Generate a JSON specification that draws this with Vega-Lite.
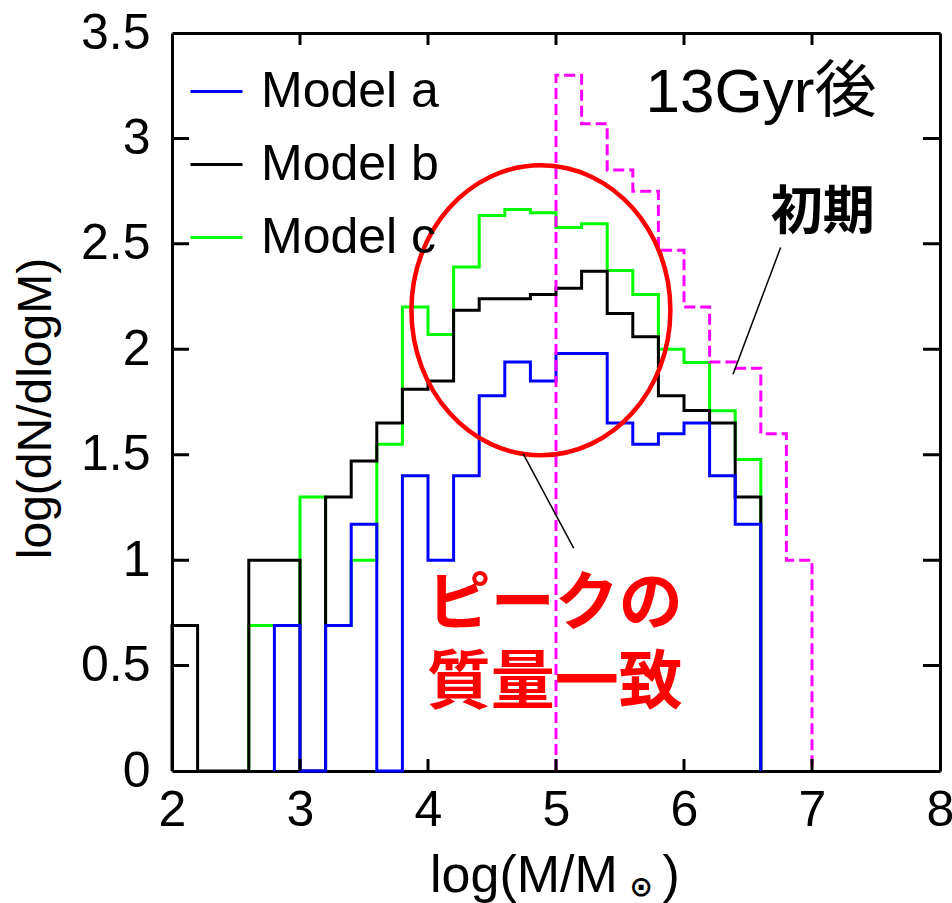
{
  "$schema": "https://vega.github.io/schema/vega-lite/v6.json",
  "width": 768,
  "height": 738,
  "autosize": {"type": "none"},
  "padding": {"left": 172, "top": 33, "right": 12, "bottom": 132},
  "background": "white",
  "config": {
    "view": {"stroke": null},
    "axis": {
      "domainColor": "black", "domainWidth": 3,
      "grid": false, "labelFont": "Liberation Sans", "labelFontSize": 50, "labelColor": "black",
      "titleFont": "Liberation Sans", "titleColor": "black", "titleFontWeight": "normal",
      "zindex": 1, "labelFlush": false, "labelOverlap": false
    }
  },
  "resolve": {"axis": {"x": "independent", "y": "independent"}},
  "datasets": {
    "hist": [
      {"model": "Model c", "i": 0, "x": 2.6, "y": 0},
      {"model": "Model c", "i": 1, "x": 2.8, "y": 0.69},
      {"model": "Model c", "i": 2, "x": 3.0, "y": 0.69},
      {"model": "Model c", "i": 3, "x": 3.2, "y": 1.30},
      {"model": "Model c", "i": 4, "x": 3.4, "y": 0.69},
      {"model": "Model c", "i": 5, "x": 3.6, "y": 1.0},
      {"model": "Model c", "i": 6, "x": 3.8, "y": 1.55},
      {"model": "Model c", "i": 7, "x": 4.0, "y": 2.20},
      {"model": "Model c", "i": 8, "x": 4.2, "y": 2.07},
      {"model": "Model c", "i": 9, "x": 4.4, "y": 2.39},
      {"model": "Model c", "i": 10, "x": 4.6, "y": 2.635},
      {"model": "Model c", "i": 11, "x": 4.8, "y": 2.663},
      {"model": "Model c", "i": 12, "x": 5.0, "y": 2.648},
      {"model": "Model c", "i": 13, "x": 5.2, "y": 2.577},
      {"model": "Model c", "i": 14, "x": 5.4, "y": 2.595},
      {"model": "Model c", "i": 15, "x": 5.6, "y": 2.374},
      {"model": "Model c", "i": 16, "x": 5.8, "y": 2.26},
      {"model": "Model c", "i": 17, "x": 6.0, "y": 2.0},
      {"model": "Model c", "i": 18, "x": 6.2, "y": 1.937},
      {"model": "Model c", "i": 19, "x": 6.4, "y": 1.708},
      {"model": "Model c", "i": 20, "x": 6.6, "y": 1.477},
      {"model": "Model c", "i": 21, "x": 6.6, "y": 0},

      {"model": "Model b", "i": 0, "x": 2.0, "y": 0},
      {"model": "Model b", "i": 1, "x": 2.2, "y": 0.69},
      {"model": "Model b", "i": 2, "x": 2.4, "y": 0},
      {"model": "Model b", "i": 3, "x": 2.6, "y": 0},
      {"model": "Model b", "i": 4, "x": 2.8, "y": 1.0},
      {"model": "Model b", "i": 5, "x": 3.0, "y": 1.0},
      {"model": "Model b", "i": 6, "x": 3.2, "y": 0},
      {"model": "Model b", "i": 7, "x": 3.4, "y": 1.30},
      {"model": "Model b", "i": 8, "x": 3.6, "y": 1.47},
      {"model": "Model b", "i": 9, "x": 3.8, "y": 1.65},
      {"model": "Model b", "i": 10, "x": 4.0, "y": 1.81},
      {"model": "Model b", "i": 11, "x": 4.2, "y": 1.85},
      {"model": "Model b", "i": 12, "x": 4.4, "y": 2.185},
      {"model": "Model b", "i": 13, "x": 4.6, "y": 2.24},
      {"model": "Model b", "i": 14, "x": 4.8, "y": 2.24},
      {"model": "Model b", "i": 15, "x": 5.0, "y": 2.26},
      {"model": "Model b", "i": 16, "x": 5.2, "y": 2.29},
      {"model": "Model b", "i": 17, "x": 5.4, "y": 2.37},
      {"model": "Model b", "i": 18, "x": 5.6, "y": 2.17},
      {"model": "Model b", "i": 19, "x": 5.8, "y": 2.06},
      {"model": "Model b", "i": 20, "x": 6.0, "y": 1.78},
      {"model": "Model b", "i": 21, "x": 6.2, "y": 1.71},
      {"model": "Model b", "i": 22, "x": 6.4, "y": 1.65},
      {"model": "Model b", "i": 23, "x": 6.6, "y": 1.30},
      {"model": "Model b", "i": 24, "x": 6.6, "y": 0},

      {"model": "Model a", "i": 0, "x": 2.8, "y": 0},
      {"model": "Model a", "i": 1, "x": 3.0, "y": 0.69},
      {"model": "Model a", "i": 2, "x": 3.2, "y": 0},
      {"model": "Model a", "i": 3, "x": 3.4, "y": 0.69},
      {"model": "Model a", "i": 4, "x": 3.6, "y": 1.17},
      {"model": "Model a", "i": 5, "x": 3.8, "y": 0},
      {"model": "Model a", "i": 6, "x": 4.0, "y": 1.40},
      {"model": "Model a", "i": 7, "x": 4.2, "y": 1.0},
      {"model": "Model a", "i": 8, "x": 4.4, "y": 1.40},
      {"model": "Model a", "i": 9, "x": 4.6, "y": 1.78},
      {"model": "Model a", "i": 10, "x": 4.8, "y": 1.94},
      {"model": "Model a", "i": 11, "x": 5.0, "y": 1.85},
      {"model": "Model a", "i": 12, "x": 5.2, "y": 1.98},
      {"model": "Model a", "i": 13, "x": 5.4, "y": 1.98},
      {"model": "Model a", "i": 14, "x": 5.6, "y": 1.65},
      {"model": "Model a", "i": 15, "x": 5.8, "y": 1.55},
      {"model": "Model a", "i": 16, "x": 6.0, "y": 1.60},
      {"model": "Model a", "i": 17, "x": 6.2, "y": 1.65},
      {"model": "Model a", "i": 18, "x": 6.4, "y": 1.40},
      {"model": "Model a", "i": 19, "x": 6.6, "y": 1.17},
      {"model": "Model a", "i": 20, "x": 6.6, "y": 0}
    ],
    "initial": [
      {"i": 0, "x": 5.0, "y": 0},
      {"i": 1, "x": 5.2, "y": 3.30},
      {"i": 2, "x": 5.4, "y": 3.07},
      {"i": 3, "x": 5.6, "y": 2.85},
      {"i": 4, "x": 5.8, "y": 2.75},
      {"i": 5, "x": 6.0, "y": 2.47},
      {"i": 6, "x": 6.2, "y": 2.20},
      {"i": 7, "x": 6.4, "y": 1.94},
      {"i": 8, "x": 6.6, "y": 1.91},
      {"i": 9, "x": 6.8, "y": 1.60},
      {"i": 10, "x": 7.0, "y": 1.00},
      {"i": 11, "x": 7.0, "y": 0}
    ],
    "xticks": [{"v": 3}, {"v": 4}, {"v": 5}, {"v": 6}, {"v": 7}],
    "yticks": [{"v": 0.5}, {"v": 1}, {"v": 1.5}, {"v": 2}, {"v": 2.5}, {"v": 3}],
    "ellipse": [{"x": 4.882, "y": 2.185}],
    "pointers": [
      {"x": 6.755, "y": 2.483, "x2": 6.383, "y2": 1.882},
      {"x": 4.742, "y": 1.506, "x2": 5.138, "y2": 1.057}
    ],
    "title13": [{"x": 5.70, "y": 3.125, "t": "13Gyr後"}],
    "shoki": [{"x": 7.084, "y": 2.645, "t": "初期"}],
    "peak": [{"x": 4.99, "y": 0.787, "t": ["ピークの", "質量一致"]}],
    "sun": [{"x": 5.665, "y": -0.555, "t": "⊙"}],
    "paren": [{"x": 5.90, "y": -0.572, "t": ")"}]
  },
  "layer": [
    {
      "data": {"name": "hist"},
      "transform": [{"filter": "datum.model == 'Model c'"}],
      "mark": {"type": "line", "interpolate": "step-before", "strokeWidth": 3},
      "encoding": {
        "x": {"field": "x", "type": "quantitative",
          "scale": {"domain": [2, 8], "nice": false, "zero": false},
          "axis": {"orient": "bottom", "values": [2, 3, 4, 5, 6, 7, 8], "format": "d",
            "ticks": false, "labelPadding": 54, "labelBaseline": "alphabetic",
            "title": "log(M/M", "titleFontSize": 52, "titleX": 257.5, "titleY": 120.7,
            "titleAlign": "left", "titleBaseline": "alphabetic", "titleAnchor": null}},
        "y": {"field": "y", "type": "quantitative",
          "scale": {"domain": [0, 3.5], "nice": false, "zero": false},
          "axis": {"orient": "left", "values": [0, 0.5, 1, 1.5, 2, 2.5, 3, 3.5], "format": "~g",
            "ticks": false, "labelPadding": 22, "labelBaseline": "middle",
            "title": "log(dN/dlogM)", "titleFontSize": 48, "titleX": -122, "titleY": 375,
            "titleAlign": "center", "titleBaseline": "alphabetic", "titleAngle": -90}},
        "color": {"field": "model", "type": "nominal",
          "scale": {"domain": ["Model a", "Model b", "Model c"], "range": ["#0000ff", "#000000", "#00ff00"]},
          "legend": {"orient": "none", "legendX": 17, "legendY": 31, "title": null,
            "symbolType": "stroke", "symbolSize": 2704, "symbolStrokeWidth": 3,
            "labelFont": "Liberation Sans", "labelFontSize": 50, "labelColor": "black", "labelLimit": 0,
            "labelOffset": 17, "rowPadding": 20, "padding": 0}},
        "order": {"field": "i", "type": "quantitative"}
      }
    },
    {
      "data": {"name": "hist"},
      "transform": [{"filter": "datum.model == 'Model b'"}],
      "mark": {"type": "line", "interpolate": "step-before", "strokeWidth": 3},
      "encoding": {
        "x": {"field": "x", "type": "quantitative",
          "axis": {"orient": "top", "values": [2, 8], "labels": false, "title": null, "ticks": false}},
        "y": {"field": "y", "type": "quantitative",
          "axis": {"orient": "right", "values": [0, 3.5], "labels": false, "title": null, "ticks": false}},
        "color": {"field": "model", "type": "nominal"},
        "order": {"field": "i", "type": "quantitative"}
      }
    },
    {
      "data": {"name": "hist"},
      "transform": [{"filter": "datum.model == 'Model a'"}],
      "mark": {"type": "line", "interpolate": "step-before", "strokeWidth": 3},
      "encoding": {
        "x": {"field": "x", "type": "quantitative", "axis": null},
        "y": {"field": "y", "type": "quantitative", "axis": null},
        "color": {"field": "model", "type": "nominal"},
        "order": {"field": "i", "type": "quantitative"}
      }
    },
    {
      "data": {"name": "initial"},
      "mark": {"type": "line", "interpolate": "step-before", "strokeWidth": 3, "color": "#ff00ff", "strokeDash": [11, 5]},
      "encoding": {
        "x": {"field": "x", "type": "quantitative", "axis": null},
        "y": {"field": "y", "type": "quantitative", "axis": null},
        "order": {"field": "i", "type": "quantitative"}
      }
    },
    {
      "data": {"name": "xticks"},
      "mark": {"type": "tick", "orient": "vertical", "size": 24, "thickness": 3, "color": "black", "opacity": 1, "clip": true},
      "encoding": {
        "x": {"field": "v", "type": "quantitative", "axis": null},
        "y": {"datum": 0, "type": "quantitative", "axis": null}
      }
    },
    {
      "data": {"name": "xticks"},
      "mark": {"type": "tick", "orient": "vertical", "size": 24, "thickness": 3, "color": "black", "opacity": 1, "clip": true},
      "encoding": {
        "x": {"field": "v", "type": "quantitative", "axis": null},
        "y": {"datum": 3.5, "type": "quantitative", "axis": null}
      }
    },
    {
      "data": {"name": "yticks"},
      "mark": {"type": "tick", "orient": "horizontal", "size": 34, "thickness": 3, "color": "black", "opacity": 1, "clip": true},
      "encoding": {
        "y": {"field": "v", "type": "quantitative", "axis": null},
        "x": {"datum": 2, "type": "quantitative", "axis": null}
      }
    },
    {
      "data": {"name": "yticks"},
      "mark": {"type": "tick", "orient": "horizontal", "size": 34, "thickness": 3, "color": "black", "opacity": 1, "clip": true},
      "encoding": {
        "y": {"field": "v", "type": "quantitative", "axis": null},
        "x": {"datum": 8, "type": "quantitative", "axis": null}
      }
    },
    {
      "data": {"name": "ellipse"},
      "mark": {"type": "point", "shape": "M -0.893 0 A 0.893 1 0 1 1 0.893 0 A 0.893 1 0 1 1 -0.893 0 Z",
        "size": 84100, "filled": false, "stroke": "#ff0000", "strokeWidth": 4.5, "opacity": 1},
      "encoding": {
        "x": {"field": "x", "type": "quantitative", "axis": null},
        "y": {"field": "y", "type": "quantitative", "axis": null}
      }
    },
    {
      "data": {"name": "pointers"},
      "mark": {"type": "rule", "color": "black", "strokeWidth": 1.5},
      "encoding": {
        "x": {"field": "x", "type": "quantitative", "axis": null},
        "y": {"field": "y", "type": "quantitative", "axis": null},
        "x2": {"field": "x2"},
        "y2": {"field": "y2"}
      }
    },
    {
      "data": {"name": "title13"},
      "mark": {"type": "text", "font": "Liberation Sans, Noto Sans CJK JP", "fontSize": 62, "align": "left", "baseline": "alphabetic", "color": "black"},
      "encoding": {
        "x": {"field": "x", "type": "quantitative", "axis": null},
        "y": {"field": "y", "type": "quantitative", "axis": null},
        "text": {"field": "t"}
      }
    },
    {
      "data": {"name": "shoki"},
      "mark": {"type": "text", "font": "Noto Sans CJK JP", "fontWeight": "bold", "fontSize": 52, "align": "center", "baseline": "middle", "color": "black"},
      "encoding": {
        "x": {"field": "x", "type": "quantitative", "axis": null},
        "y": {"field": "y", "type": "quantitative", "axis": null},
        "text": {"field": "t"}
      }
    },
    {
      "data": {"name": "peak"},
      "mark": {"type": "text", "font": "Noto Sans CJK JP", "fontWeight": "bold", "fontSize": 64, "lineHeight": 79, "align": "center", "baseline": "middle", "color": "#ff0000"},
      "encoding": {
        "x": {"field": "x", "type": "quantitative", "axis": null},
        "y": {"field": "y", "type": "quantitative", "axis": null},
        "text": {"field": "t"}
      }
    },
    {
      "data": {"name": "sun"},
      "mark": {"type": "text", "font": "DejaVu Sans", "fontWeight": "bold", "fontSize": 28, "align": "center", "baseline": "middle", "color": "black"},
      "encoding": {
        "x": {"field": "x", "type": "quantitative", "axis": null},
        "y": {"field": "y", "type": "quantitative", "axis": null},
        "text": {"field": "t"}
      }
    },
    {
      "data": {"name": "paren"},
      "mark": {"type": "text", "font": "Liberation Sans", "fontSize": 52, "align": "center", "baseline": "alphabetic", "color": "black"},
      "encoding": {
        "x": {"field": "x", "type": "quantitative", "axis": null},
        "y": {"field": "y", "type": "quantitative", "axis": null},
        "text": {"field": "t"}
      }
    }
  ]
}
